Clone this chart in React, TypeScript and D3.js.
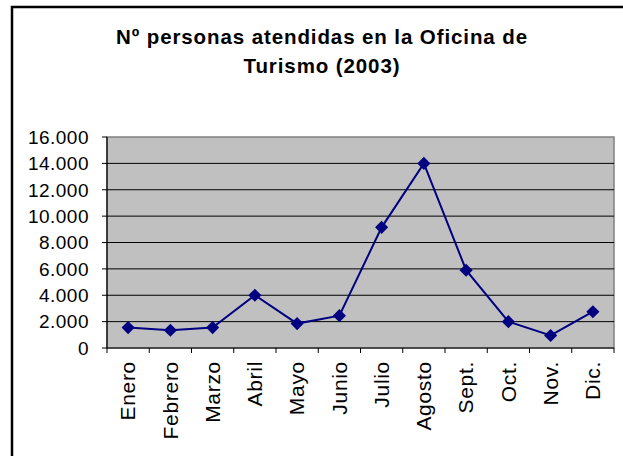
import React from "react";
import * as d3 from "d3";

const months = ["Enero", "Febrero", "Marzo", "Abril", "Mayo", "Junio", "Julio", "Agosto", "Sept.", "Oct.", "Nov.", "Dic."];
const visitors = [1550, 1350, 1550, 4000, 1850, 2450, 9150, 14000, 5900, 2000, 950, 2750];
const yTicks = [0, 2000, 4000, 6000, 8000, 10000, 12000, 14000, 16000];
const titleLines = ["Nº personas atendidas en la Oficina de", "Turismo (2003)"];

const W = 623;
const H = 456;
const plot = { left: 107, right: 614, top: 137, bottom: 348 };
const FONT = "'Liberation Sans', Arial, Helvetica, sans-serif";

export default function App() {
  const x = d3.scaleBand<string>().domain(months).range([plot.left, plot.right]).padding(0);
  const y = d3.scaleLinear().domain([0, 16000]).range([plot.bottom, plot.top]);
  const fmt = (v: number) => d3.format(",")(v).replace(/,/g, ".");
  const cx = (m: string) => (x(m) as number) + x.bandwidth() / 2;
  const line = d3
    .line<number>()
    .x((_, i) => cx(months[i]))
    .y((d) => y(d));
  const diamond = d3.symbol().type(d3.symbolDiamond2).size(110)();
  const boundaries = months.map((m) => x(m) as number).concat([plot.right]);

  return (
    <svg
      width={W}
      height={H}
      style={{ position: "absolute", left: 0, top: 0, background: "#fff" }}
      fontFamily={FONT}
    >
      <rect x={0} y={0} width={W} height={H} fill="#fff" />
      {/* outer chart frame */}
      <rect x={12} y={7} width={W + 20} height={H + 20} fill="none" stroke="#000" strokeWidth={2.5} />

      {/* title */}
      {titleLines.map((t, i) => (
        <text
          key={i}
          x={322}
          y={44 + i * 29}
          textAnchor="middle"
          fontSize={20.5}
          fontWeight="bold"
          letterSpacing={0.9}
          fill="#000"
        >
          {t}
        </text>
      ))}

      {/* plot area */}
      <rect
        x={plot.left}
        y={plot.top}
        width={plot.right - plot.left}
        height={plot.bottom - plot.top}
        fill="#C0C0C0"
        stroke="#808080"
        strokeWidth={1.5}
      />
      {/* gridlines */}
      {yTicks
        .filter((t) => t > 0 && t < 16000)
        .map((t) => (
          <line key={t} x1={plot.left} x2={plot.right} y1={y(t)} y2={y(t)} stroke="#000" strokeWidth={1} />
        ))}

      {/* y axis */}
      <line x1={plot.left} x2={plot.left} y1={plot.top} y2={plot.bottom} stroke="#000" strokeWidth={1.2} />
      {yTicks.map((t) => (
        <g key={t}>
          <line x1={plot.left - 5} x2={plot.left} y1={y(t)} y2={y(t)} stroke="#000" strokeWidth={1} />
          <text
            x={89}
            y={y(t)}
            dy="0.36em"
            textAnchor="end"
            fontSize={19}
            letterSpacing={0.5}
            fill="#000"
          >
            {fmt(t)}
          </text>
        </g>
      ))}

      {/* x axis */}
      <line x1={plot.left} x2={plot.right} y1={plot.bottom} y2={plot.bottom} stroke="#000" strokeWidth={1.2} />
      {boundaries.map((b, i) => (
        <line key={i} x1={b} x2={b} y1={plot.bottom} y2={plot.bottom + 5} stroke="#000" strokeWidth={1} />
      ))}
      {months.map((m) => (
        <text
          key={m}
          transform={`translate(${cx(m)},${361}) rotate(-90)`}
          dy="0.35em"
          textAnchor="end"
          fontSize={21}
          letterSpacing={0.7}
          fill="#000"
        >
          {m}
        </text>
      ))}

      {/* series */}
      <path d={line(visitors) as string} fill="none" stroke="#000080" strokeWidth={2} />
      {visitors.map((v, i) => (
        <path key={i} d={diamond as string} transform={`translate(${cx(months[i])},${y(v)})`} fill="#000080" />
      ))}
    </svg>
  );
}
